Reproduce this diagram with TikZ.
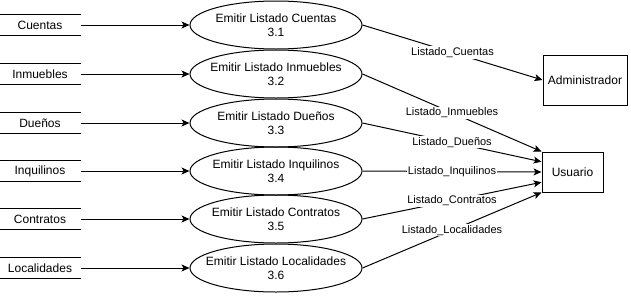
\documentclass[tikz,border=0pt]{standalone}
\usepackage{fontspec}
\setmainfont{Liberation Sans}
\usetikzlibrary{shapes.geometric,arrows.meta,calc}

\tikzset{
	almacen/.style={minimum width=80pt, minimum height=20pt, inner sep=0pt, font=\fontsize{12}{14}\selectfont},
	proceso/.style={draw, ellipse, minimum width=172pt, minimum height=48pt, inner xsep=-16pt, inner ysep=0pt, align=center, font=\fontsize{12}{14}\selectfont},
	entidad/.style={draw, rectangle, inner sep=0pt, font=\fontsize{12}{14}\selectfont},
	flujo/.style={-{Stealth[length=8pt,width=7pt,inset=2pt]}},
	etiqueta/.style={fill=white, inner sep=1pt, font=\fontsize{11}{13}\selectfont}
}

\begin{document}
\begin{tikzpicture}[x=1pt, y=-1pt, line width=1pt]

	\useasboundingbox (0,0) rectangle (631,295);

	\node[almacen] (s1) at (40,25) {Cuentas};
	\node[almacen] (s2) at (40,74) {Inmuebles};
	\node[almacen] (s3) at (40,123) {Dueños};
	\node[almacen] (s4) at (40,171) {Inquilinos};
	\node[almacen] (s5) at (40,219) {Contratos};
	\node[almacen] (s6) at (40,268) {Localidades};
	\foreach \s in {s1,s2,s3,s4,s5,s6} {
		\draw (\s.north west) -- (\s.north east);
		\draw (\s.south west) -- (\s.south east);
	}

	\node[proceso] (e1) at (276,25) {Emitir Listado Cuentas\\3.1};
	\node[proceso] (e2) at (276,74) {Emitir Listado Inmuebles\\3.2};
	\node[proceso] (e3) at (276,123) {Emitir Listado Dueños\\3.3};
	\node[proceso] (e4) at (276,171) {Emitir Listado Inquilinos\\3.4};
	\node[proceso] (e5) at (276,219) {Emitir Listado Contratos\\3.5};
	\node[proceso] (e6) at (276,268) {Emitir Listado Localidades\\3.6};

	\node[entidad, minimum width=84pt, minimum height=50pt] (adm) at (585,80) {Administrador};
	\node[entidad, minimum width=61pt, minimum height=40pt] (usr) at (572.5,172) {Usuario};

	\draw[flujo] (s1) -- (e1);
	\draw[flujo] (s2) -- (e2);
	\draw[flujo] (s3) -- (e3);
	\draw[flujo] (s4) -- (e4);
	\draw[flujo] (s5) -- (e5);
	\draw[flujo] (s6) -- (e6);

	\coordinate (u1) at ($(usr.north west)!0.25!(usr.south west)$);
	\coordinate (u3) at ($(usr.north west)!0.75!(usr.south west)$);

	\draw[flujo] (e1.east) -- node[etiqueta] {Listado\_Cuentas} (adm.west);
	\draw[flujo] (e2.east) -- node[etiqueta] {Listado\_Inmuebles} (usr.north west);
	\draw[flujo] (e3.east) -- node[etiqueta] {Listado\_Dueños} (u1);
	\draw[flujo] (e4.east) -- node[etiqueta] {Listado\_Inquilinos} (usr.west);
	\draw[flujo] (e5.east) -- node[etiqueta] {Listado\_Contratos} (u3);
	\draw[flujo] (e6.east) -- node[etiqueta] {Listado\_Localidades} (usr.south west);

\end{tikzpicture}
\end{document}
